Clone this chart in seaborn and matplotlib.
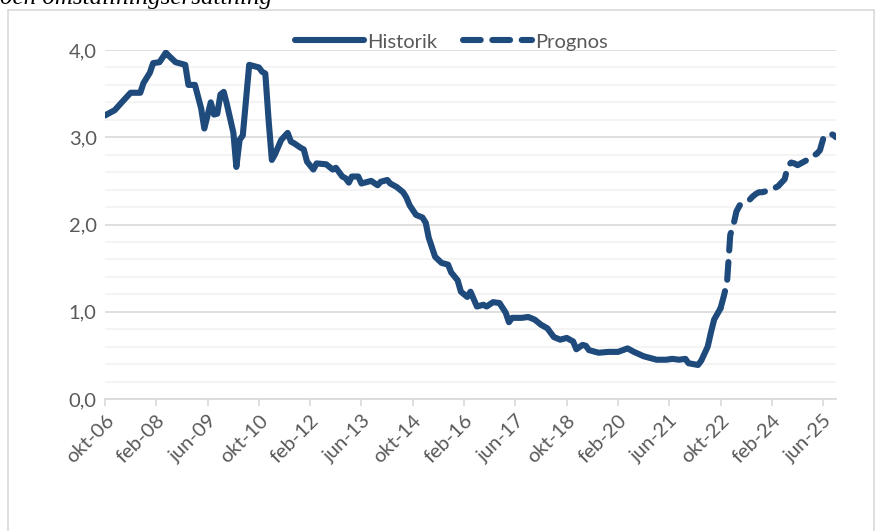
import matplotlib
matplotlib.use("Agg")
import matplotlib.pyplot as plt
from matplotlib.lines import Line2D
from matplotlib.ticker import MultipleLocator, FixedLocator
import seaborn as sns
import pandas as pd

# Historic series (monthly readings from the chart)
hist_dates = ["2006-10", "2007-01", "2007-04", "2007-06", "2007-09", "2007-10", "2007-12",
              "2008-01", "2008-03", "2008-05", "2008-06", "2008-08", "2008-10", "2008-11",
              "2008-12", "2009-02", "2009-04", "2009-05", "2009-07", "2009-08", "2009-09",
              "2009-10", "2009-11", "2009-12", "2010-02", "2010-03", "2010-04", "2010-05",
              "2010-07", "2010-08", "2010-10", "2010-11", "2010-12", "2011-01", "2011-02",
              "2011-03", "2011-05", "2011-07", "2011-08", "2011-09", "2011-11", "2011-12",
              "2012-01", "2012-03", "2012-04", "2012-07", "2012-09", "2012-10", "2012-12",
              "2013-01", "2013-02", "2013-03", "2013-05", "2013-06", "2013-08", "2013-09",
              "2013-11", "2013-12", "2014-02", "2014-03", "2014-05", "2014-07", "2014-08",
              "2014-09", "2014-11", "2015-01", "2015-02", "2015-03", "2015-05", "2015-07",
              "2015-09", "2015-10", "2015-12", "2016-01", "2016-03", "2016-04", "2016-06",
              "2016-08", "2016-09", "2016-11", "2017-01", "2017-03", "2017-04", "2017-05",
              "2017-08", "2017-10", "2017-12", "2018-02", "2018-04", "2018-06", "2018-08",
              "2018-10", "2018-12", "2019-01", "2019-03", "2019-04", "2019-05", "2019-08",
              "2019-11", "2020-02", "2020-05", "2020-07", "2020-10", "2021-02", "2021-05",
              "2021-07", "2021-09", "2021-11", "2021-12", "2022-03", "2022-04", "2022-06",
              "2022-07", "2022-08", "2022-10"]
hist_values = [3.25, 3.31, 3.43, 3.51, 3.51, 3.62, 3.74,
               3.85, 3.86, 3.97, 3.93, 3.86, 3.84, 3.83,
               3.60, 3.60, 3.33, 3.10, 3.40, 3.26, 3.27,
               3.49, 3.52, 3.38, 3.05, 2.66, 2.97, 3.02,
               3.83, 3.82, 3.80, 3.75, 3.73, 3.20, 2.74,
               2.80, 2.97, 3.05, 2.95, 2.93, 2.88, 2.86,
               2.72, 2.63, 2.70, 2.69, 2.63, 2.65, 2.55,
               2.53, 2.48, 2.55, 2.55, 2.47, 2.49, 2.50,
               2.45, 2.49, 2.51, 2.47, 2.43, 2.37, 2.31,
               2.22, 2.11, 2.08, 2.02, 1.85, 1.63, 1.56,
               1.54, 1.45, 1.36, 1.23, 1.17, 1.23, 1.06,
               1.08, 1.06, 1.11, 1.10, 0.99, 0.88, 0.93,
               0.93, 0.94, 0.91, 0.85, 0.81, 0.71, 0.68,
               0.70, 0.66, 0.57, 0.62, 0.61, 0.56, 0.53,
               0.54, 0.54, 0.58, 0.54, 0.49, 0.45, 0.45,
               0.46, 0.45, 0.46, 0.41, 0.39, 0.44, 0.60,
               0.76, 0.91, 1.04]

# Forecast, monthly from okt-22 to okt-25
fc_start, fc_end = "2022-10", "2025-10"
fc_values = [1.04, 1.18, 1.33, 1.88, 2.00, 2.15, 2.22, 2.24, 2.26, 2.28,
             2.32, 2.35, 2.37, 2.37, 2.38, 2.40, 2.41, 2.42, 2.44, 2.48,
             2.52, 2.67, 2.71, 2.70, 2.68, 2.70, 2.72, 2.74, 2.76, 2.79,
             2.81, 2.85, 2.98, 3.03, 3.04, 3.03, 3.00]

tick_labels = ["okt-06", "feb-08", "jun-09", "okt-10", "feb-12", "jun-13", "okt-14", "feb-16",
               "jun-17", "okt-18", "feb-20", "jun-21", "okt-22", "feb-24", "jun-25"]

hist = pd.DataFrame({"date": pd.to_datetime(hist_dates), "value": hist_values})
fc = pd.DataFrame({"date": pd.date_range(fc_start, fc_end, freq="MS"), "value": fc_values})

sns.set_style("white")
plt.rcParams['font.family'] = ['Lato', 'DejaVu Sans']

blue = "#1f4a7c"
txt = "#595959"
fs = 14.5

fig = plt.figure(figsize=(8.76, 5.31), dpi=100)
ax = fig.add_axes([105 / 876, 1 - 399 / 531, 731 / 876, 349 / 531])

sns.lineplot(data=hist, x="date", y="value", ax=ax, color=blue, linewidth=4.4,
             label="Historik", solid_capstyle="round", solid_joinstyle="round")
sns.lineplot(data=fc, x="date", y="value", ax=ax, color=blue, linewidth=4.4,
             label="Prognos", linestyle=(0, (2.9, 1.9)), dash_capstyle="round",
             dash_joinstyle="round")

ax.set_xlim(pd.Timestamp("2006-10-01"), pd.Timestamp("2025-10-01"))
ax.set_ylim(0, 4.0)
ax.yaxis.set_major_locator(MultipleLocator(1.0))
ax.yaxis.set_minor_locator(MultipleLocator(0.2))
ax.set_yticklabels([f"{v:.1f}".replace(".", ",") for v in ax.get_yticks()])

tick_pos = pd.date_range("2006-10-01", periods=len(tick_labels), freq="16MS")
ax.xaxis.set_major_locator(FixedLocator(matplotlib.dates.date2num(tick_pos)))
ax.set_xticklabels(tick_labels, rotation=45, ha="right", rotation_mode="anchor")

ax.grid(axis="y", which="major", color="#d9d9d9", linewidth=1.2)
ax.grid(axis="y", which="minor", color="#f2f2f2", linewidth=1.2)
ax.set_axisbelow(True)
for s in ["top", "right", "left"]:
    ax.spines[s].set_visible(False)
ax.spines["bottom"].set_color("#d9d9d9")
ax.spines["bottom"].set_linewidth(1.2)

ax.tick_params(axis="x", which="major", length=5, width=1.2, color="#d9d9d9",
               labelsize=fs, labelcolor=txt, pad=4, bottom=True)
ax.tick_params(axis="y", which="both", length=0, labelsize=fs, labelcolor=txt, pad=6)
ax.set_xlabel("")
ax.set_ylabel("")

leg = ax.legend(loc="center", bbox_to_anchor=(0.474, 1.023), ncol=2, frameon=False,
                fontsize=fs, handlelength=3.4, columnspacing=1.3, handletextpad=0.15,
                borderaxespad=0, borderpad=0)
for t in leg.get_texts():
    t.set_color(txt)

# outer frame of the figure box
fig.add_artist(Line2D([8 / 876, 8 / 876], [0, 1 - 10 / 531], transform=fig.transFigure,
                      color="#d9d9d9", linewidth=1.2))
fig.add_artist(Line2D([8 / 876, 874 / 876], [1 - 10 / 531, 1 - 10 / 531],
                      transform=fig.transFigure, color="#d9d9d9", linewidth=1.2))
fig.add_artist(Line2D([874 / 876, 874 / 876], [0, 1 - 10 / 531], transform=fig.transFigure,
                      color="#d9d9d9", linewidth=1.2))

# cut-off caption above the box
fig.text(0.0, 1.003, "och omställningsersättning", family=["Liberation Serif", "DejaVu Serif"],
         style="italic", fontsize=18, va="center", ha="left", color="black")

fig.savefig("out.png", dpi=100)
